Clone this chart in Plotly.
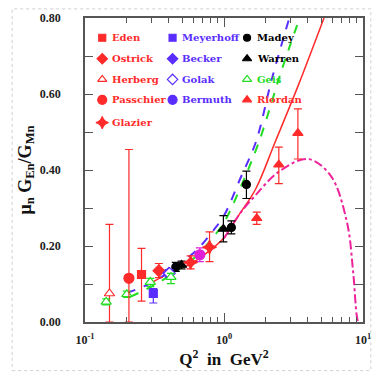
import plotly.graph_objects as go

RED = "#ff2a2a"
BLUE = "#5a2dff"
BLACK = "#000000"
GREEN = "#22dd22"
MAG = "#e01fd8"
PINK = "#ee2299"

# ---- data points (Q^2 in GeV^2, mu_n G_En/G_Mn, error up, error down) ----
eden_x = [0.255]; eden_y = [0.125]; eden_up = [0.069]; eden_dn = [0.070]
meyer_x = [0.31]; meyer_y = [0.075]; meyer_up = [0.013]; meyer_dn = [0.025]
madey_x = [0.45, 1.13, 1.45]; madey_y = [0.145, 0.249, 0.362]
madey_up = [0.012, 0.017, 0.035]; madey_dn = [0.012, 0.017, 0.037]
ostrick_x = [0.34]; ostrick_y = [0.135]; ostrick_up = [0.019]; ostrick_dn = [0.018]
becker_x = [0.40]; becker_y = [0.128]; becker_up = [0.01]; becker_dn = [0.01]
warren_x = [0.495, 0.99]; warren_y = [0.150, 0.245]
warren_up = [0.010, 0.035]; warren_dn = [0.010, 0.034]
herberg_x = [0.15]; herberg_y = [0.075]; herberg_up = [0.182]; herberg_dn = [0.075]
golak_x = [0.405]; golak_y = [0.128]; golak_up = [0.01]; golak_dn = [0.01]
geis_x = [0.142, 0.20, 0.295, 0.415]; geis_y = [0.053, 0.073, 0.105, 0.118]
geis_up = [0.008, 0.008, 0.010, 0.010]; geis_dn = [0.008, 0.008, 0.012, 0.017]
pass_x = [0.207]; pass_y = [0.115]; pass_up = [0.339]; pass_dn = [0.115]
berm_x = [0.67]; berm_y = [0.177]; berm_up = [0.018]; berm_dn = [0.018]
riordan_x = [1.72, 2.48, 3.40]; riordan_y = [0.273, 0.414, 0.497]
riordan_up = [0.016, 0.046, 0.064]; riordan_dn = [0.016, 0.050, 0.068]
glazier_x = [0.575, 0.787]; glazier_y = [0.157, 0.197]
glazier_up = [0.017, 0.040]; glazier_dn = [0.017, 0.038]

# ---- model curves ----
blue_x = [0.20, 0.30, 0.40, 0.50, 0.64, 0.80, 1.0, 1.3, 1.7, 2.2, 2.95]
blue_y = [0.076, 0.103, 0.131, 0.158, 0.190, 0.232, 0.280, 0.375, 0.475, 0.637, 0.80]
green_x = [0.21, 0.30, 0.41, 0.50, 0.64, 0.80, 1.0, 1.3, 1.78, 2.6, 3.5]
green_y = [0.066, 0.093, 0.123, 0.145, 0.175, 0.215, 0.262, 0.350, 0.473, 0.663, 0.80]
red_x = [0.29, 0.40, 0.575, 0.80, 1.0, 1.3, 1.69, 2.33, 3.4, 5.24]
red_y = [0.100, 0.128, 0.153, 0.190, 0.222, 0.285, 0.350, 0.473, 0.620, 0.80]
mag_x = [1.0, 1.3, 1.69, 2.47, 4.0, 5.83, 7.64, 8.5, 8.97, 9.2]
mag_y = [0.220, 0.285, 0.334, 0.395, 0.429, 0.386, 0.265, 0.130, 0.023, 0.0]

# ---- legend layout (column, row) ----
legend_names = ["Eden", "Ostrick", "Herberg", "Passchier", "Glazier",
                "Meyerhoff", "Becker", "Golak", "Bermuth",
                "Madey", "Warren", "Geis", "Riordan"]
legend_cols = [0, 0, 0, 0, 0, 1, 1, 1, 1, 2, 2, 2, 2]
legend_rows = [0, 1, 2, 3, 4, 0, 1, 2, 3, 0, 1, 2, 3]

fig = go.Figure()

# curves
fig.add_trace(go.Scatter(x=red_x, y=red_y, mode="lines", showlegend=False,
                         line=dict(color=RED, width=1.5, shape="spline")))
fig.add_trace(go.Scatter(x=mag_x, y=mag_y, mode="lines", showlegend=False,
                         line=dict(color=PINK, width=2, dash="dashdot", shape="spline")))
fig.add_trace(go.Scatter(x=green_x, y=green_y, mode="lines", showlegend=False,
                         line=dict(color=GREEN, width=2, dash="dash", shape="spline")))
fig.add_trace(go.Scatter(x=blue_x, y=blue_y, mode="lines", showlegend=False,
                         line=dict(color=BLUE, width=2, dash="dash", shape="spline")))

styles = {}


def pts(name, x, y, up, dn, color, symbol, size=8, fill=None, lcolor=None):
    styles[name] = dict(color=lcolor if lcolor else color, symbol=symbol, size=size,
                        fill=fill if fill else (lcolor if lcolor else color))
    fig.add_trace(go.Scatter(
        x=x, y=y, mode="markers", name=name, showlegend=False,
        marker=dict(symbol=symbol, size=size, color=fill if fill else color,
                    line=dict(color=color, width=1.2)),
        error_y=dict(type="data", array=up, arrayminus=dn, symmetric=False,
                     color=color, thickness=1.2, width=4),
    ))


pts("Eden", eden_x, eden_y, eden_up, eden_dn, RED, "square", 8)
pts("Meyerhoff", meyer_x, meyer_y, meyer_up, meyer_dn, BLUE, "square", 8)
pts("Madey", madey_x, madey_y, madey_up, madey_dn, BLACK, "circle", 8)
pts("Ostrick", ostrick_x, ostrick_y, ostrick_up, ostrick_dn, RED, "diamond", 9)
pts("Becker", becker_x, becker_y, becker_up, becker_dn, BLUE, "diamond", 9)
pts("Warren", warren_x, warren_y, warren_up, warren_dn, BLACK, "triangle-up", 9)
pts("Herberg", herberg_x, herberg_y, herberg_up, herberg_dn, RED, "triangle-up", 9, fill="white")
pts("Golak", golak_x, golak_y, golak_up, golak_dn, BLUE, "diamond", 9, fill="white")
pts("Geis", geis_x, geis_y, geis_up, geis_dn, GREEN, "triangle-up", 9, fill="white")
pts("Passchier", pass_x, pass_y, pass_up, pass_dn, RED, "circle", 10)
pts("Bermuth", berm_x, berm_y, berm_up, berm_dn, MAG, "circle", 10, lcolor=BLUE)
pts("Riordan", riordan_x, riordan_y, riordan_up, riordan_dn, RED, "triangle-up", 9)
pts("Glazier", glazier_x, glazier_y, glazier_up, glazier_dn, RED, "star-diamond", 10)

AX = "#555555"
FONT = "Liberation Serif"
LFONT = "DejaVu Serif"

# ---- hand-built three-column legend on a hidden overlay axis ----
COL_X = 0.062      # first marker column, fraction of plot width
COL_STEP = [0.0, 0.253, 0.521]
ROW_Y = [0.935, 0.866, 0.798, 0.731, 0.656]
TXT_DX = 0.028

annotations = []
for name, c, r in zip(legend_names, legend_cols, legend_rows):
    st = styles[name]
    mx = COL_X + COL_STEP[c]
    my = ROW_Y[r]
    fig.add_trace(go.Scatter(
        x=[mx], y=[my], xaxis="x2", yaxis="y2", mode="markers", showlegend=False,
        hoverinfo="skip",
        marker=dict(symbol=st["symbol"], size=st["size"] - 1, color=st["fill"],
                    line=dict(color=st["color"], width=1.2)),
    ))
    annotations.append(dict(
        x=mx + TXT_DX, y=my, xref="x2", yref="y2", xanchor="left", yanchor="middle",
        text=f"<b>{name}</b>", showarrow=False,
        font=dict(family=LFONT, size=10, color=st["color"]),
    ))

fig.update_layout(
    width=382, height=378,
    margin=dict(l=85, r=11, t=15, b=56),
    paper_bgcolor="white", plot_bgcolor="white",
    font=dict(family=FONT, size=11, color="#222222"),
    showlegend=False,
    annotations=annotations,
    xaxis=dict(
        type="log", range=[-1, 1],
        tickvals=[0.1, 1, 10],
        ticktext=["10<sup>-1</sup>", "10<sup>0</sup>", "10<sup>1</sup>"],
        ticks="inside", ticklen=9, tickwidth=1.3, tickcolor=AX,
        minor=dict(ticks="inside", ticklen=5, tickwidth=1.2, tickcolor=AX,
                   tickvals=[k * 10 ** e for e in (-1, 0) for k in range(2, 10)]),
        showline=True, linecolor=AX, linewidth=1.5, mirror="allticks",
        showgrid=False, zeroline=False, ticklabelstandoff=6,
        tickfont=dict(family=FONT, size=12, color="#222222", weight="bold"),
        title=dict(text="<b>Q<sup>2</sup>\u2002in\u2002GeV<sup>2</sup></b>", standoff=2,
                   font=dict(family=FONT, size=17, color="#111111")),
    ),
    yaxis=dict(
        range=[0, 0.8], dtick=0.2, tickformat=".2f",
        ticks="inside", ticklen=8, tickwidth=1.3, tickcolor=AX,
        minor=dict(ticks="inside", ticklen=8, tickwidth=1.2, tickcolor=AX, dtick=0.1),
        showline=True, linecolor=AX, linewidth=1.5, mirror="allticks",
        showgrid=False, zeroline=False, ticklabelstandoff=20,
        tickfont=dict(family=FONT, size=12, color="#222222", weight="bold"),
        title=dict(text="<b>\u03bc<sub>n</sub> G<sub>En</sub>/G<sub>Mn</sub></b>", standoff=4,
                   font=dict(family=FONT, size=18, color="#111111")),
    ),
    xaxis2=dict(overlaying="x", range=[0, 1], visible=False, fixedrange=True),
    yaxis2=dict(overlaying="y", range=[0, 1], visible=False, fixedrange=True),
    shapes=[dict(type="rect", xref="paper", yref="paper",
                 x0=-0.262, x1=1.028, y0=-0.16, y1=1.03,
                 line=dict(color="#cfcfcf", width=1, dash="dot"), layer="below")],
)

fig.write_html("out.html")
